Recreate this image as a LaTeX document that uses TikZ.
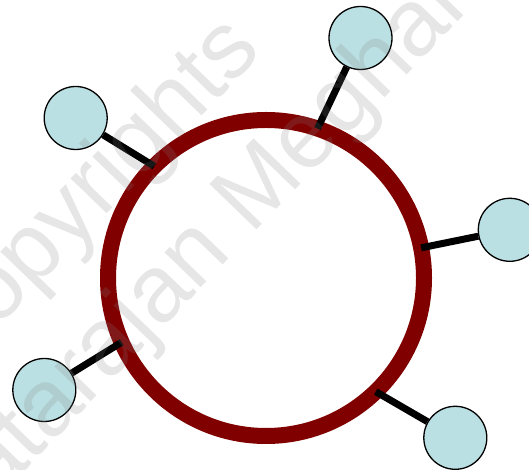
\documentclass[tikz,border=0pt]{standalone}
\usepackage{fontspec}
\setmainfont{Liberation Sans}
\usetikzlibrary{shapes}
\definecolor{ringred}{RGB}{128,0,0}
\definecolor{hostblue}{RGB}{187,224,227}

\begin{document}
\begin{tikzpicture}[x=1pt,y=1pt,
  host/.style={circle,draw,line width=1.3pt,fill=hostblue,minimum size=63pt,inner sep=0pt},
  tap/.style={line width=7pt},
  mark text/.style={rotate=46,anchor=base west,text=gray,text opacity=0.2,font=\fontsize{95}{114}\selectfont}]
\useasboundingbox (0,0) rectangle (529,470);
\clip (0,0) rectangle (529,470);
\node[circle,draw=ringred,line width=16pt,minimum size=316pt,inner sep=0pt,outer sep=0pt](ring) at (266,192){};
\node[host](h1) at (360.5,432){};
\node[host](h2) at (75.7,352){};
\node[host](h3) at (509.8,240.2){};
\node[host](h4) at (44.3,80){};
\node[host](h5) at (455.3,32.2){};
\draw[tap](ring.71.3)--(h1);
\draw[tap](ring.135)--(h2);
\draw[tap](ring.11.3)--(h3);
\draw[tap](ring.204.3)--(h4);
\draw[tap](ring.314.7)--(h5);
\node[mark text](wm1) at (-54,89){Copyrights};
\node[mark text](wm2) at (-55,-83){Natarajan Meghanathan};
\end{tikzpicture}
\end{document}
